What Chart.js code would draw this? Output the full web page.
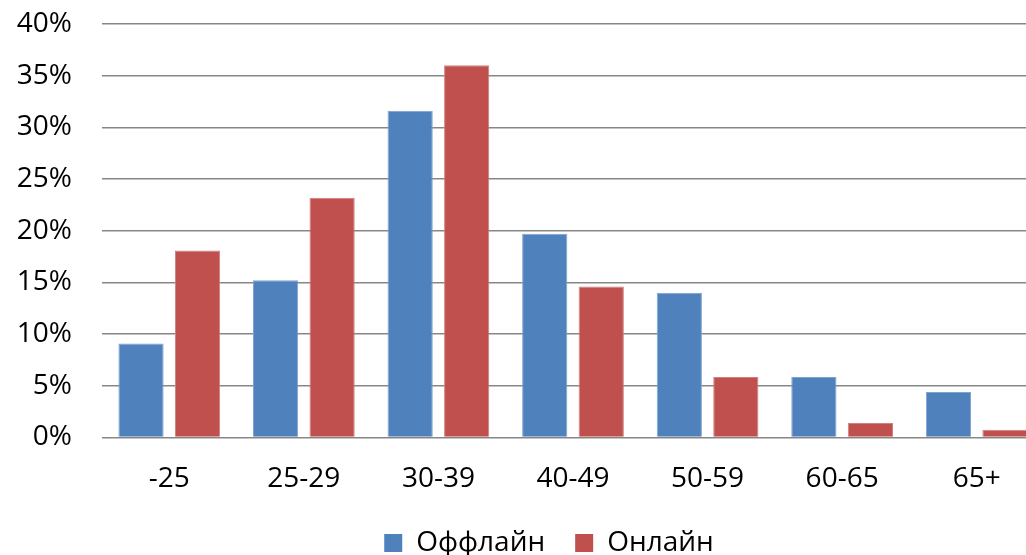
<!DOCTYPE html>
<html><head><meta charset="utf-8">
<script src="https://cdn.jsdelivr.net/npm/chart.js@4/dist/chart.umd.min.js"></script>
<style>html,body{margin:0;padding:0;background:#fff;overflow:hidden}#wrap{width:1044px;height:555px}</style>
</head><body><div id="wrap"><canvas id="c" width="1044" height="555"></canvas></div>
<script>
const categories = ['-25','25-29','30-39','40-49','50-59','60-65','65+'];
const offline = [9.1, 15.2, 31.6, 19.7, 14.0, 5.85, 4.4];
const online  = [18.1, 23.2, 36.0, 14.6, 5.85, 1.4, 0.75];
const seriesNames = ['Оффлайн','Онлайн'];
const yTicks = [0,5,10,15,20,25,30,35,40];

const FONT = {family: "'Open Sans', sans-serif", size: 28};

const legendTweak = {
  id: 'legendTweak',
  beforeLayout(chart) {
    const lg = chart.legend;
    if (lg && !lg._patched) {
      const f = lg.fit.bind(lg);
      lg.fit = function() { f(); this.height = 60; };
      lg._patched = true;
    }
  },
  afterLayout(chart) {
    const lg = chart.legend;
    if (lg) { lg.left += 27; lg.right += 27; lg.top += 4; lg.bottom += 4; }
  }
};

new Chart(document.getElementById('c'), {
  type: 'bar',
  data: {
    labels: categories,
    datasets: [
      {label: seriesNames[0], data: offline, backgroundColor: '#4F81BD', borderColor: '#7fa3cf', borderWidth: 1},
      {label: seriesNames[1], data: online, backgroundColor: '#C0504D', borderColor: '#d07f7d', borderWidth: 1}
    ]
  },
  plugins: [legendTweak],
  options: {
    responsive: false,
    animation: false,
    devicePixelRatio: 1,
    layout: {padding: {top: 24, right: 0, left: 0, bottom: 0}},
    categoryPercentage: 0.84,
    barPercentage: 0.8,
    plugins: {
      tooltip: {enabled: false},
      legend: {
        position: 'bottom',
        labels: {
          font: FONT, color: '#000',
          boxWidth: 18, boxHeight: 18, padding: 30,
          generateLabels: (chart) => chart.data.datasets.map((d, i) => ({
            text: d.label, fillStyle: d.backgroundColor, strokeStyle: d.backgroundColor,
            lineWidth: 0, datasetIndex: i, fontColor: '#000'
          }))
        }
      }
    },
    scales: {
      x: {
        grid: {display: false, drawTicks: false},
        border: {display: false},
        ticks: {font: FONT, color: '#000', padding: 25, maxRotation: 0},
        afterFit: (s) => { s.paddingLeft = 0; s.paddingRight = 0; s.height = 57.5; }
      },
      y: {
        min: 0, max: 40,
        afterBuildTicks: (s) => { s.ticks = yTicks.map(v => ({value: v})); },
        afterFit: (s) => { s.width = 102; s.paddingTop = 0; s.paddingBottom = 0; },
        grid: {color: '#878787', lineWidth: 1.5, drawTicks: false},
        border: {display: false},
        ticks: {font: FONT, color: '#000', padding: 30, callback: v => v + '%'}
      }
    }
  }
});
</script></body></html>
